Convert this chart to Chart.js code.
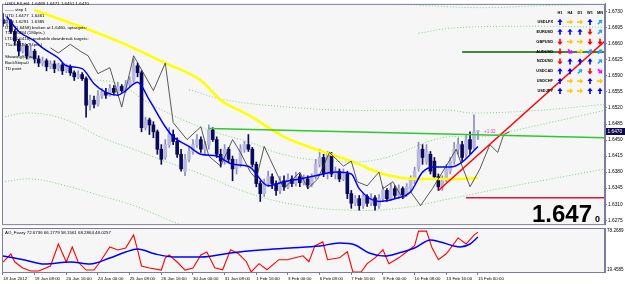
<!DOCTYPE html>
<html>
<head>
<meta charset="utf-8">
<script src="https://cdn.jsdelivr.net/npm/chart.js@4.4.1/dist/chart.umd.min.js"></script>
<style>
  body { margin: 0; width: 625px; height: 284px; overflow: hidden; background: #fff; position: relative; }
  #main { position: absolute; left: 0; top: 0; }
  #osc { position: absolute; left: 0; top: 226px; }
</style>
</head>
<body>
<canvas id="main" width="625" height="228"></canvas>
<canvas id="osc" width="625" height="58"></canvas>
<script>
// USDLFX H4 candles, 18 Jan 00:00 .. 15 Feb 00:00 (bar index 0..120)
const open = [
  1.6713,1.6704,1.6709,1.6687,1.6666,1.6644,1.6655,1.6634,1.6644,1.6627,
  1.6618,1.6623,1.6610,1.6616,1.6606,1.6614,1.6601,1.6610,1.6597,1.6588,
  1.6593,1.6584,1.6526,1.6537,1.6528,1.6546,1.6554,1.6548,1.6563,1.6554,
  1.6567,1.6558,1.6571,1.6580,1.6612,1.6597,1.6477,1.6494,1.6483,1.6468,
  1.6430,1.6412,1.6440,1.6462,1.6447,1.6419,1.6382,1.6408,1.6425,1.6440,
  1.6451,1.6430,1.6440,1.6472,1.6451,1.6419,1.6404,1.6430,1.6408,1.6387,
  1.6397,1.6430,1.6440,1.6430,1.6397,1.6355,1.6333,1.6355,1.6370,1.6355,
  1.6340,1.6361,1.6348,1.6365,1.6355,1.6370,1.6357,1.6365,1.6352,1.6370,
  1.6397,1.6412,1.6376,1.6419,1.6376,1.6382,1.6365,1.6376,1.6333,1.6312,
  1.6322,1.6307,1.6327,1.6312,1.6324,1.6307,1.6322,1.6340,1.6322,1.6344,
  1.6329,1.6344,1.6331,1.6344,1.6361,1.6387,1.6430,1.6402,1.6419,1.6404,
  1.6370,1.6348,1.6365,1.6382,1.6404,1.6430,1.6440,1.6419,1.6451,1.6434,
  1.6469];
const high = [
  1.6726,1.6719,1.6713,1.6691,1.6670,1.6661,1.6659,1.6655,1.6648,1.6634,
  1.6631,1.6627,1.6623,1.6623,1.6618,1.6618,1.6616,1.6614,1.6601,1.6601,
  1.6597,1.6588,1.6548,1.6546,1.6558,1.6563,1.6563,1.6571,1.6569,1.6576,
  1.6571,1.6580,1.6588,1.6627,1.6618,1.6601,1.6500,1.6498,1.6490,1.6472,
  1.6440,1.6451,1.6477,1.6472,1.6455,1.6430,1.6419,1.6434,1.6451,1.6462,
  1.6457,1.6447,1.6483,1.6477,1.6457,1.6430,1.6440,1.6434,1.6415,1.6408,
  1.6440,1.6447,1.6462,1.6434,1.6402,1.6361,1.6365,1.6382,1.6376,1.6361,
  1.6370,1.6372,1.6376,1.6372,1.6380,1.6376,1.6374,1.6372,1.6376,1.6408,
  1.6430,1.6419,1.6425,1.6423,1.6391,1.6387,1.6387,1.6382,1.6340,1.6329,
  1.6329,1.6333,1.6331,1.6333,1.6329,1.6331,1.6348,1.6344,1.6355,1.6350,
  1.6352,1.6348,1.6355,1.6372,1.6391,1.6445,1.6440,1.6440,1.6425,1.6412,
  1.6376,1.6372,1.6397,1.6412,1.6445,1.6455,1.6447,1.6462,1.6468,1.6505,
  1.6471];
const low = [
  1.6698,1.6698,1.6683,1.6657,1.6634,1.6640,1.6627,1.6629,1.6618,1.6610,
  1.6612,1.6601,1.6606,1.6597,1.6601,1.6593,1.6597,1.6591,1.6580,1.6584,
  1.6580,1.6500,1.6515,1.6520,1.6524,1.6541,1.6541,1.6546,1.6548,1.6550,
  1.6554,1.6554,1.6567,1.6576,1.6588,1.6468,1.6472,1.6462,1.6455,1.6419,
  1.6397,1.6408,1.6434,1.6440,1.6412,1.6382,1.6372,1.6402,1.6419,1.6434,
  1.6423,1.6419,1.6430,1.6447,1.6412,1.6391,1.6397,1.6402,1.6361,1.6376,
  1.6391,1.6423,1.6425,1.6391,1.6348,1.6316,1.6327,1.6348,1.6344,1.6329,
  1.6333,1.6340,1.6344,1.6348,1.6350,1.6348,1.6352,1.6344,1.6348,1.6365,
  1.6391,1.6370,1.6365,1.6370,1.6365,1.6359,1.6361,1.6322,1.6301,1.6307,
  1.6297,1.6301,1.6305,1.6307,1.6297,1.6301,1.6316,1.6316,1.6318,1.6322,
  1.6322,1.6322,1.6327,1.6337,1.6355,1.6382,1.6397,1.6397,1.6376,1.6365,
  1.6340,1.6340,1.6359,1.6376,1.6397,1.6419,1.6404,1.6412,1.6419,1.6430,
  1.6451];
const close = [
  1.6704,1.6709,1.6687,1.6666,1.6644,1.6655,1.6634,1.6644,1.6627,1.6618,
  1.6623,1.6610,1.6616,1.6606,1.6614,1.6601,1.6610,1.6597,1.6588,1.6593,
  1.6584,1.6526,1.6537,1.6528,1.6546,1.6554,1.6548,1.6563,1.6554,1.6567,
  1.6558,1.6571,1.6580,1.6612,1.6597,1.6477,1.6494,1.6483,1.6468,1.6430,
  1.6408,1.6440,1.6462,1.6447,1.6419,1.6387,1.6408,1.6425,1.6440,1.6451,
  1.6430,1.6440,1.6472,1.6451,1.6419,1.6404,1.6430,1.6408,1.6387,1.6397,
  1.6430,1.6440,1.6430,1.6397,1.6355,1.6333,1.6355,1.6370,1.6355,1.6340,
  1.6361,1.6348,1.6365,1.6355,1.6370,1.6357,1.6365,1.6352,1.6370,1.6397,
  1.6412,1.6376,1.6419,1.6376,1.6382,1.6365,1.6376,1.6333,1.6312,1.6322,
  1.6307,1.6327,1.6312,1.6324,1.6307,1.6322,1.6340,1.6322,1.6344,1.6329,
  1.6344,1.6331,1.6348,1.6365,1.6382,1.6430,1.6412,1.6425,1.6382,1.6370,
  1.6348,1.6365,1.6387,1.6404,1.6430,1.6440,1.6412,1.6451,1.6430,1.6468,
  1.6470];

// fast MA (blue)
const maFastIdx = [1,4,8,10,14,16,20,23,26,29,31,34,37,41,43,47,50,54,58,62,67,71,75,79,84,88,90,95,99,103,106,109,113,116,120];
const maFastVal = [1.6719,1.6687,1.6666,1.6651,1.6629,1.6612,1.6606,1.6573,1.6554,1.6548,1.6558,1.6576,1.6537,1.6479,1.6457,1.6436,1.6419,1.6415,1.6397,1.6393,1.6350,1.6359,1.6365,1.6372,1.6380,1.6376,1.6344,1.6316,1.6322,1.6337,1.6380,1.6391,1.6391,1.6402,1.6436];
// slow MA (yellow)
const maSlowIdx = [8,29,41,50,55,62,71,79,88,96,105,113,120];
const maSlowVal = [1.6734,1.6666,1.6618,1.6580,1.6537,1.6505,1.6457,1.6430,1.6404,1.6376,1.6365,1.6365,1.6367];
// thin black line (runs past the last bar)
const lagIdx = [12,14,17,19.5,21.5,24,27,30,33,38,41,43,46.5,50,52,55,58,60,62.5,64,66,67.5,71,75,77,79.5,82.5,86,88,89.5,92,95,96,98.5,101,103,105.5,108.5,113,114.5,116,118,120.5,123,125,126.5,128];
const lagVal = [1.6651,1.6640,1.6659,1.6644,1.6634,1.6595,1.6608,1.6522,1.6634,1.6558,1.6618,1.6488,1.6451,1.6479,1.6415,1.6393,1.6451,1.6423,1.6380,1.6365,1.6436,1.6408,1.6344,1.6380,1.6344,1.6365,1.6423,1.6393,1.6404,1.6359,1.6350,1.6380,1.6344,1.6359,1.6322,1.6337,1.6307,1.6344,1.6408,1.6430,1.6393,1.6348,1.6387,1.6440,1.6423,1.6462,1.6468];
// dotted envelope lines
const band1Idx = [-0.25,12,20,29,37,45.5,54,62.5,70.5,82.5,95,111,121,135.5,152.1];
const band1Val = [1.6634,1.6616,1.6586,1.6573,1.6530,1.6494,1.6466,1.6445,1.6419,1.6404,1.6408,1.6455,1.6457,1.6483,1.6515];
const band2Idx = [-0.25,7,16,24.5,33,41.5,50,62.5,75,87.5,100,113,125.5,152.1];
const band2Val = [1.6500,1.6509,1.6494,1.6457,1.6430,1.6402,1.6376,1.6333,1.6307,1.6297,1.6301,1.6322,1.6344,1.6387];
const band3Idx = [-0.25,7.5,16,24.5,33,42,50];
const band3Val = [1.6359,1.6365,1.6350,1.6329,1.6307,1.6275,1.6247];
const band4Idx = [47,56.5,75,87.5,113,118.5,135.5,152.1];
const band4Val = [1.6560,1.6537,1.6520,1.6515,1.6515,1.6509,1.6515,1.6528];
const band5Idx = [105,113,125.5,140.5,152.1];
const band5Val = [1.6683,1.6694,1.6698,1.6698,1.6696];
const band6Idx = [100,108,120.5,135.5,152.1];
const band6Val = [1.6747,1.6743,1.6739,1.6743,1.6747];

// trend lines and levels
const greenTrend = [[52, 1.6475], [152.1, 1.6455]];
const redTrend = [[110, 1.6340], [152.1, 1.6666]];
const levelGreen = [[116, 1.6642], [152.1, 1.6642]];
const levelRed = [[117, 1.6324], [152.1, 1.6324]];

const priceTicks = [1.6275,1.6310,1.6345,1.6380,1.6415,1.6450,1.6485,1.6520,1.6555,1.6590,1.6625,1.6660,1.6695,1.6730];
const lastPrice = 1.6470;

const tickIdx = [0,8,16,24,32,40,48,56,64,72,80,88,96,104,112,120];
const tickLabels = ['18 Jan 2012','19 Jan 08:00','20 Jan 16:00','24 Jan 00:00','25 Jan 08:00','26 Jan 16:00','30 Jan 00:00','31 Jan 08:00','1 Feb 16:00','3 Feb 00:00','6 Feb 08:00','7 Feb 16:00','9 Feb 00:00','10 Feb 08:00','13 Feb 16:00','15 Feb 00:00'];

// AO_Fozzy sub window
const aoRedIdx = [0,2,3,5,7,9,12,14,16,17.5,19,21,23,24.5,27,29,31,33,34,35,37,40,41,42,44,46,48,50,51.5,53.5,55.5,57.5,59.5,61.5,62.7,64.7,66.7,69.7,71.8,73.8,75.8,77.3,78.8,80.8,82,85,87,88.4,90.5,92,94,96,97.5,100,102,104,105,107,108.4,110,112,115,117,119,120];
const aoRedVal = [32.8,43.5,32.8,24.8,20.8,20.8,27.5,56.9,32.8,52.9,32.8,22.1,22.1,32.8,52.9,48.9,51.5,68.9,48.9,27.5,24.8,22.1,38.2,42.2,32.8,22.1,24.8,42.2,46.2,25.2,22.5,49.1,43.8,33.2,19.5,30.6,22.5,35.9,35.9,38.4,41.1,33.2,54.5,59.7,35.9,38.4,46.5,19.5,19.5,30.6,38.4,49.1,30.6,38.4,46.5,54.5,74.1,74.1,51.8,35.9,43.8,65.0,57.0,68.8,72.7];
const aoBlueIdx = [0,5.5,10.5,17,22,27,31,34,38.5,43.5,50,57.5,65,72.5,80,85,89,92.5,96.5,100,104,108,110.5,115.5,118,120];
const aoBlueVal = [40.8,35.5,30.2,32.8,30.2,38.2,46.2,50.2,43.5,39.5,39.5,44.9,48.9,51.5,54.2,58.2,55.6,44.9,40.8,44.9,51.5,62.2,59.6,52.9,56.9,66.2];
const aoMax = 78.2689, aoMin = 19.4585;

// currency strength table
const pairs = ['USDLFX','EURUSD','GBPUSD','AUDUSD','NZDUSD','USDCAD','USDCHF','USDJPY'];
const frames = ['H1','H4','D1','W1','MN'];
const signals = [
  ['u','r','r','u','ur'],
  ['u','u','u','d','ur'],
  ['d','r','r','d','d'],
  ['d','dr','r','ur','ur'],
  ['d','u','u','u','ur'],
  ['u','u','ur','d','dr'],
  ['u','r','r','u','r'],
  ['u','r','r','u','u']
];

const infoLines = [
  'USDLFX,H4  1.6469 1.6471 1.6451 1.6470',
  '\u2014\u2014 step 1',
  'UTD 1.6477  1.6461',
  'DTD 1.6291  1.6385',
  'UTL (1.6458) broken at 1.6460, uptargets:',
  'T1=1.6484 (180pts.)',
  'LTD (1.6418), probable downbreak targets:',
  'T1=1.6324 (94pts.)',
  '',
  'ShowingStep=1',
  'BackStep=0',
  'TD point'
];

const X_MIN = -0.25, X_MAX = 152.1;
const AXIS = '#7c7ca0';
const FONT = '"Liberation Sans", Arial, sans-serif';
const BULL = '#b9b9dd', BEAR = '#0a0a5a';
const DOT = '#7ad67a';

const pts = (idx, val) => idx.map((x, k) => ({ x, y: val[k] }));
const seg = arr => arr.map(p => ({ x: p[0], y: p[1] }));
const isBull = close.map((c, i) => c >= open[i]);

function drawArrow(ctx, x, y, dir, color) {
  ctx.save();
  ctx.translate(x, y);
  const ang = { u: -Math.PI / 2, d: Math.PI / 2, r: 0, ur: -Math.PI / 4, dr: Math.PI / 4 }[dir];
  ctx.rotate(ang);
  ctx.fillStyle = color;
  ctx.strokeStyle = color;
  ctx.lineWidth = 1.6;
  ctx.beginPath(); ctx.moveTo(-3, 0); ctx.lineTo(0.5, 0); ctx.stroke();
  ctx.beginPath(); ctx.moveTo(3.2, 0); ctx.lineTo(0, -2.6); ctx.lineTo(0, 2.6); ctx.closePath(); ctx.fill();
  ctx.restore();
}
const arrowColor = { u: '#0000ff', d: '#ff0000', r: '#ffc800', ur: '#2aa0ff', dr: '#ff00ff' };

const framePlugin = {
  id: 'frame',
  beforeDraw(chart) {
    const { ctx, chartArea: a } = chart;
    ctx.save();
    ctx.fillStyle = '#ffffff';
    ctx.fillRect(0, 0, chart.width, chart.height);
    ctx.fillStyle = '#f6f6f6';
    ctx.fillRect(a.left, a.top, a.right - a.left, a.bottom - a.top);
    ctx.restore();
  },
  afterDraw(chart) {
    const { ctx, chartArea: a } = chart;
    ctx.save();
    ctx.strokeStyle = AXIS;
    ctx.lineWidth = 1;
    ctx.strokeRect(a.left + 0.5, a.top + 0.5, a.right - a.left - 1, a.bottom - a.top);
    ctx.restore();
  }
};

const mainDeco = {
  id: 'mainDeco',
  afterDraw(chart) {
    const { ctx } = chart;
    const ys = chart.scales.y;
    ctx.save();
    // info text block
    ctx.fillStyle = '#000';
    ctx.font = '4.4px ' + FONT;
    ctx.textBaseline = 'middle';
    infoLines.forEach((t, k) => { if (t) ctx.fillText(t, 5, 4 + k * 5.85); });

    // currency table
    ctx.font = 'bold 3.9px ' + FONT;
    ctx.textAlign = 'center';
    frames.forEach((f, c) => ctx.fillText(f, 560 + c * 10, 13));
    pairs.forEach((p, r) => {
      const y = 22 + r * 9.85;
      ctx.textAlign = 'right';
      ctx.fillStyle = '#000';
      ctx.fillText(p, 553, y);
      signals[r].forEach((s, c) => drawArrow(ctx, 560 + c * 10, y, s, arrowColor[s]));
    });

    // candle timer
    ctx.textAlign = 'left';
    ctx.fillStyle = '#e040e0';
    ctx.font = '4.6px ' + FONT;
    ctx.fillText('+1:32', 484, ys.getPixelForValue(lastPrice) + 1);

    // big price
    ctx.fillStyle = '#000';
    ctx.textBaseline = 'alphabetic';
    ctx.textAlign = 'right';
    ctx.font = 'bold 24px ' + FONT;
    ctx.fillText(lastPrice.toFixed(4).slice(0, 5), 592, 222);
    ctx.textAlign = 'left';
    ctx.font = 'bold 9px ' + FONT;
    ctx.fillText(lastPrice.toFixed(4).slice(5), 595, 222);

    // current price marker on the axis
    const py = Math.round(ys.getPixelForValue(lastPrice));
    ctx.fillStyle = '#0a0a50';
    ctx.fillRect(606, py - 3, 19, 7);
    ctx.fillStyle = '#fff';
    ctx.font = '4.8px ' + FONT;
    ctx.textBaseline = 'middle';
    ctx.fillText(lastPrice.toFixed(4), 607.5, py + 0.5);
    ctx.restore();
  }
};

const lineDs = (data, color, width, extra) => Object.assign({
  type: 'line', data, borderColor: color, borderWidth: width,
  pointRadius: 0, fill: false, tension: 0
}, extra || {});
const dotted = (idx, val) => lineDs(pts(idx, val), DOT, 1, { borderDash: [1, 2], tension: 0.4, order: 20 });

new Chart(document.getElementById('main'), {
  type: 'bar',
  data: {
    datasets: [
      dotted(band1Idx, band1Val),
      dotted(band2Idx, band2Val),
      dotted(band3Idx, band3Val),
      dotted(band4Idx, band4Val),
      dotted(band5Idx, band5Val),
      dotted(band6Idx, band6Val),
      {
        type: 'bar', order: 9, grouped: false, barThickness: 1,
        data: close.map((c, i) => ({ x: i, y: [low[i], high[i]] })),
        backgroundColor: isBull.map(b => b ? '#8c8cc4' : BEAR)
      },
      {
        type: 'bar', order: 8, grouped: false, barThickness: 3, minBarLength: 1,
        data: close.map((c, i) => ({ x: i, y: [open[i], c] })),
        backgroundColor: isBull.map(b => b ? BULL : BEAR),
        borderWidth: 0
      },
      lineDs(pts(maSlowIdx, maSlowVal), '#ffff00', 2.6, { cubicInterpolationMode: 'monotone', order: 6 }),
      lineDs(pts(lagIdx, lagVal), '#303030', 0.8, { order: 5 }),
      lineDs(pts(maFastIdx, maFastVal), '#0000ff', 1.5, { cubicInterpolationMode: 'monotone', order: 4 }),
      lineDs(seg(greenTrend), '#2ec82e', 1.5, { order: 3 }),
      lineDs(seg(redTrend), '#ff0000', 1.5, { order: 3 }),
      lineDs(seg(levelGreen), '#006400', 1.5, { order: 3 }),
      lineDs(seg(levelRed), '#dc143c', 1.5, { order: 3 })
    ]
  },
  options: {
    responsive: false,
    animation: false,
    devicePixelRatio: 1,
    layout: { padding: { top: 2, bottom: 2, left: 2, right: 0 } },
    plugins: { legend: { display: false }, tooltip: { enabled: false } },
    scales: {
      x: { type: 'linear', min: X_MIN, max: X_MAX, offset: false, display: false },
      y: {
        position: 'right',
        min: 1.62665, max: 1.67472,
        afterBuildTicks: s => { s.ticks = priceTicks.map(v => ({ value: v })); },
        afterFit: s => { s.width = 20; },
        ticks: {
          callback: v => v.toFixed(4),
          font: { size: 4.8, family: FONT }, color: '#000', padding: 1
        },
        grid: { drawOnChartArea: false, tickLength: 2, color: AXIS },
        border: { color: AXIS }
      }
    }
  },
  plugins: [framePlugin, mainDeco]
});

const oscDeco = {
  id: 'oscDeco',
  afterDraw(chart) {
    const { ctx, chartArea: a } = chart;
    ctx.save();
    ctx.fillStyle = '#000';
    ctx.font = '4.4px ' + FONT;
    ctx.textBaseline = 'middle';
    ctx.fillText('AO_Fozzy 72.6736 66.1779 58.1561 68.2864 48.0257', 5, a.top + 4.5);
    ctx.font = '4.6px ' + FONT;
    ctx.fillText(aoMax.toFixed(4), 607, a.top + 2.5);
    ctx.fillText(aoMin.toFixed(4), 607, a.bottom - 2);
    ctx.restore();
  }
};

new Chart(document.getElementById('osc'), {
  type: 'line',
  data: {
    datasets: [
      lineDs(pts(aoBlueIdx, aoBlueVal), '#0000ff', 1.5, { cubicInterpolationMode: 'monotone' }),
      lineDs(pts(aoRedIdx, aoRedVal), '#ff0000', 1.1, {})
    ]
  },
  options: {
    responsive: false,
    animation: false,
    devicePixelRatio: 1,
    layout: { padding: { top: 2, left: 2, right: 0, bottom: 0 } },
    plugins: { legend: { display: false }, tooltip: { enabled: false } },
    scales: {
      x: {
        type: 'linear', min: X_MIN, max: X_MAX, offset: false,
        afterBuildTicks: s => { s.ticks = tickIdx.map(v => ({ value: v })); },
        afterFit: s => { s.height = 12; },
        ticks: {
          autoSkip: false, maxRotation: 0, align: 'start', padding: 1,
          callback: (v, k) => tickLabels[k],
          font: { size: 4.4, family: FONT }, color: '#000'
        },
        grid: { drawOnChartArea: false, tickLength: 3, color: AXIS },
        border: { color: AXIS }
      },
      y: {
        position: 'right', min: aoMin, max: aoMax,
        afterFit: s => { s.width = 20; },
        ticks: { display: false },
        grid: { display: false },
        border: { color: AXIS }
      }
    }
  },
  plugins: [framePlugin, oscDeco]
});
</script>
</body>
</html>
